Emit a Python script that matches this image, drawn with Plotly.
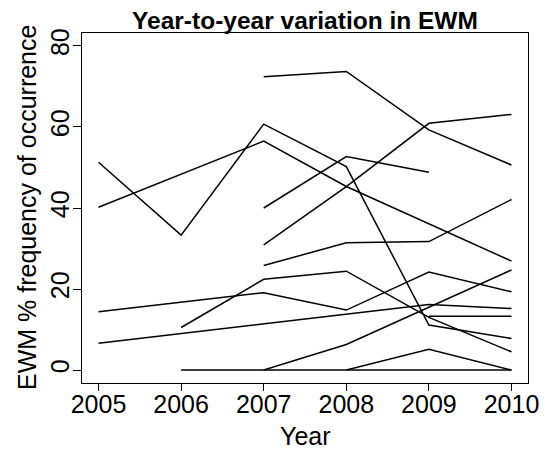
import plotly.graph_objects as go

# EWM % frequency of occurrence per site, by year (None = not sampled)
years = [2005, 2006, 2007, 2008, 2009, 2010]
site_a = [None, None, 72.4, 73.7, 59.3, 50.6]
site_b = [None, None, 30.9, 45.3, 60.9, 63.1]
site_c = [None, None, 40.0, 52.7, 48.8, None]
site_d = [40.2, None, 56.5, 45.3, 36.1, 26.9]
site_e = [51.3, 33.3, 60.7, 50.2, 11.1, 7.8]
site_f = [None, 10.5, 22.4, 24.4, 13.0, 4.5]
site_g = [14.4, None, 19.1, 14.8, 24.2, 19.3]
site_h = [6.6, None, None, None, 16.2, 15.2]
site_i = [None, None, 25.8, 31.4, 31.7, 42.1]
site_j = [None, 0, 0, 6.3, 15.5, 24.7]
site_k = [None, None, None, 0, 5.1, 0]
site_l = [None, None, 0, 0, 0, 0]
site_m = [None, None, None, None, 13.3, 13.3]

sites = [site_a, site_b, site_c, site_d, site_e, site_f, site_g,
         site_h, site_i, site_j, site_k, site_l, site_m]

fnt = "Liberation Sans, Arial, sans-serif"

# page body has an 8px margin, so the figure is 8px smaller than the window
W, H = 542, 441

fig = go.Figure()
for s in sites:
    fig.add_trace(go.Scatter(x=years, y=s,
                             mode='lines',
                             connectgaps=True,
                             line=dict(color='black', width=1.5),
                             showlegend=False,
                             hoverinfo='skip'))

fig.update_layout(width=W, height=H,
                  paper_bgcolor='white',
                  plot_bgcolor='white',
                  margin=dict(l=74, r=22, t=25, b=66, autoexpand=False),
                  font=dict(family=fnt, size=25, color='black'),
                  title=dict(text='<b>Year-to-year variation in EWM</b>',
                             font=dict(size=24.5),
                             x=0.5, xref='paper', xanchor='center',
                             y=1 - 12.8 / H, yref='container', yanchor='middle'))

fig.update_xaxes(range=[2004.8, 2010.2],
                 tickvals=years,
                 ticktext=[str(y) for y in years],
                 ticks='outside', ticklen=7, tickcolor='black',
                 ticklabelstandoff=-8,
                 showgrid=False, zeroline=False, automargin=False,
                 showline=True, linecolor='black', linewidth=1, mirror=True,
                 tickfont=dict(size=25))
fig.update_yaxes(range=[-3.2, 83.2],
                 tickvals=[0, 20, 40, 60, 80],
                 ticks='outside', ticklen=8, tickcolor='black',
                 tickangle=-90, ticklabelstandoff=-6,
                 showgrid=False, zeroline=False, automargin=False,
                 showline=True, linecolor='black', linewidth=1, mirror=True,
                 tickfont=dict(size=25))

fig.add_annotation(text='Year', xref='paper', yref='paper',
                   x=0.5, y=0, xanchor='center', yanchor='middle',
                   yshift=-53, showarrow=False, font=dict(size=25))
fig.add_annotation(text='EWM % frequency of occurrence', xref='paper', yref='paper',
                   x=0, y=0.5, xanchor='center', yanchor='middle',
                   xshift=-55, textangle=-90, showarrow=False, font=dict(size=25))

fig.write_html("out.html")
